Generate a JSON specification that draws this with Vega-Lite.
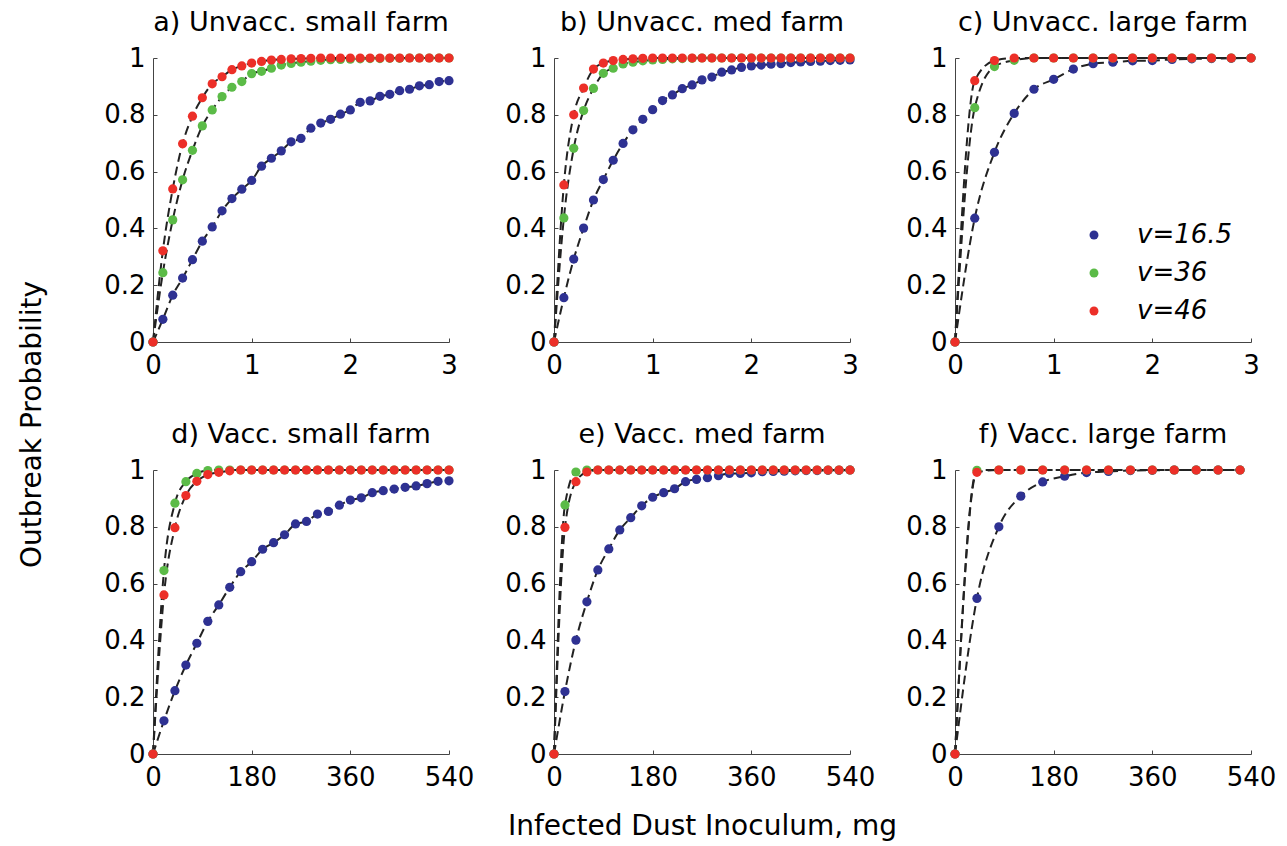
{
  "$schema": "https://vega.github.io/schema/vega-lite/v6.json",
  "padding": {"left": 18, "top": 9, "right": 5, "bottom": 5},
  "background": "white",
  "datasets": {
    "d": [
      {"p":"a","v":"16.5","x":0,"y":0},{"p":"a","v":"16.5","x":0.1,"y":0.08},{"p":"a","v":"16.5","x":0.2,"y":0.165},{"p":"a","v":"16.5","x":0.3,"y":0.225},{"p":"a","v":"16.5","x":0.4,"y":0.29},{"p":"a","v":"16.5","x":0.5,"y":0.355},{"p":"a","v":"16.5","x":0.6,"y":0.405},{"p":"a","v":"16.5","x":0.7,"y":0.462},{"p":"a","v":"16.5","x":0.8,"y":0.505},{"p":"a","v":"16.5","x":0.9,"y":0.538},{"p":"a","v":"16.5","x":1.0,"y":0.569},{"p":"a","v":"16.5","x":1.1,"y":0.619},{"p":"a","v":"16.5","x":1.2,"y":0.647},{"p":"a","v":"16.5","x":1.3,"y":0.673},{"p":"a","v":"16.5","x":1.4,"y":0.705},{"p":"a","v":"16.5","x":1.5,"y":0.717},{"p":"a","v":"16.5","x":1.6,"y":0.753},{"p":"a","v":"16.5","x":1.7,"y":0.771},{"p":"a","v":"16.5","x":1.8,"y":0.784},{"p":"a","v":"16.5","x":1.9,"y":0.802},{"p":"a","v":"16.5","x":2.0,"y":0.817},{"p":"a","v":"16.5","x":2.1,"y":0.844},{"p":"a","v":"16.5","x":2.2,"y":0.849},{"p":"a","v":"16.5","x":2.3,"y":0.865},{"p":"a","v":"16.5","x":2.4,"y":0.872},{"p":"a","v":"16.5","x":2.5,"y":0.885},{"p":"a","v":"16.5","x":2.6,"y":0.89},{"p":"a","v":"16.5","x":2.7,"y":0.902},{"p":"a","v":"16.5","x":2.8,"y":0.906},{"p":"a","v":"16.5","x":2.9,"y":0.917},{"p":"a","v":"16.5","x":3.0,"y":0.92},
      {"p":"a","v":"36","x":0,"y":0},{"p":"a","v":"36","x":0.1,"y":0.244},{"p":"a","v":"36","x":0.2,"y":0.43},{"p":"a","v":"36","x":0.3,"y":0.571},{"p":"a","v":"36","x":0.4,"y":0.675},{"p":"a","v":"36","x":0.5,"y":0.761},{"p":"a","v":"36","x":0.6,"y":0.817},{"p":"a","v":"36","x":0.7,"y":0.864},{"p":"a","v":"36","x":0.8,"y":0.897},{"p":"a","v":"36","x":0.9,"y":0.917},{"p":"a","v":"36","x":1.0,"y":0.945},{"p":"a","v":"36","x":1.1,"y":0.953},{"p":"a","v":"36","x":1.2,"y":0.964},{"p":"a","v":"36","x":1.3,"y":0.975},{"p":"a","v":"36","x":1.4,"y":0.981},{"p":"a","v":"36","x":1.5,"y":0.985},{"p":"a","v":"36","x":1.6,"y":0.989},{"p":"a","v":"36","x":1.7,"y":0.992},{"p":"a","v":"36","x":1.8,"y":0.994},{"p":"a","v":"36","x":1.9,"y":0.995},{"p":"a","v":"36","x":2.0,"y":0.996},{"p":"a","v":"36","x":2.1,"y":0.997},{"p":"a","v":"36","x":2.2,"y":0.998},{"p":"a","v":"36","x":2.3,"y":0.998},{"p":"a","v":"36","x":2.4,"y":0.999},{"p":"a","v":"36","x":2.5,"y":0.999},{"p":"a","v":"36","x":2.6,"y":1},{"p":"a","v":"36","x":2.7,"y":1},{"p":"a","v":"36","x":2.8,"y":1},{"p":"a","v":"36","x":2.9,"y":1},{"p":"a","v":"36","x":3.0,"y":1},
      {"p":"a","v":"46","x":0,"y":0},{"p":"a","v":"46","x":0.1,"y":0.321},{"p":"a","v":"46","x":0.2,"y":0.539},{"p":"a","v":"46","x":0.3,"y":0.698},{"p":"a","v":"46","x":0.4,"y":0.795},{"p":"a","v":"46","x":0.5,"y":0.86},{"p":"a","v":"46","x":0.6,"y":0.909},{"p":"a","v":"46","x":0.7,"y":0.934},{"p":"a","v":"46","x":0.8,"y":0.959},{"p":"a","v":"46","x":0.9,"y":0.972},{"p":"a","v":"46","x":1.0,"y":0.982},{"p":"a","v":"46","x":1.1,"y":0.988},{"p":"a","v":"46","x":1.2,"y":0.993},{"p":"a","v":"46","x":1.3,"y":0.995},{"p":"a","v":"46","x":1.4,"y":0.997},{"p":"a","v":"46","x":1.5,"y":0.998},{"p":"a","v":"46","x":1.6,"y":0.999},{"p":"a","v":"46","x":1.7,"y":1},{"p":"a","v":"46","x":1.8,"y":1},{"p":"a","v":"46","x":1.9,"y":1},{"p":"a","v":"46","x":2.0,"y":1},{"p":"a","v":"46","x":2.1,"y":1},{"p":"a","v":"46","x":2.2,"y":1},{"p":"a","v":"46","x":2.3,"y":1},{"p":"a","v":"46","x":2.4,"y":1},{"p":"a","v":"46","x":2.5,"y":1},{"p":"a","v":"46","x":2.6,"y":1},{"p":"a","v":"46","x":2.7,"y":1},{"p":"a","v":"46","x":2.8,"y":1},{"p":"a","v":"46","x":2.9,"y":1},{"p":"a","v":"46","x":3.0,"y":1},

      {"p":"b","v":"16.5","x":0,"y":0},{"p":"b","v":"16.5","x":0.1,"y":0.156},{"p":"b","v":"16.5","x":0.2,"y":0.292},{"p":"b","v":"16.5","x":0.3,"y":0.401},{"p":"b","v":"16.5","x":0.4,"y":0.5},{"p":"b","v":"16.5","x":0.5,"y":0.572},{"p":"b","v":"16.5","x":0.6,"y":0.64},{"p":"b","v":"16.5","x":0.7,"y":0.699},{"p":"b","v":"16.5","x":0.8,"y":0.747},{"p":"b","v":"16.5","x":0.9,"y":0.784},{"p":"b","v":"16.5","x":1.0,"y":0.818},{"p":"b","v":"16.5","x":1.1,"y":0.85},{"p":"b","v":"16.5","x":1.2,"y":0.87},{"p":"b","v":"16.5","x":1.3,"y":0.892},{"p":"b","v":"16.5","x":1.4,"y":0.905},{"p":"b","v":"16.5","x":1.5,"y":0.923},{"p":"b","v":"16.5","x":1.6,"y":0.933},{"p":"b","v":"16.5","x":1.7,"y":0.95},{"p":"b","v":"16.5","x":1.8,"y":0.958},{"p":"b","v":"16.5","x":1.9,"y":0.967},{"p":"b","v":"16.5","x":2.0,"y":0.972},{"p":"b","v":"16.5","x":2.1,"y":0.975},{"p":"b","v":"16.5","x":2.2,"y":0.978},{"p":"b","v":"16.5","x":2.3,"y":0.98},{"p":"b","v":"16.5","x":2.4,"y":0.984},{"p":"b","v":"16.5","x":2.5,"y":0.986},{"p":"b","v":"16.5","x":2.6,"y":0.988},{"p":"b","v":"16.5","x":2.7,"y":0.989},{"p":"b","v":"16.5","x":2.8,"y":0.991},{"p":"b","v":"16.5","x":2.9,"y":0.992},{"p":"b","v":"16.5","x":3.0,"y":0.993},
      {"p":"b","v":"36","x":0,"y":0},{"p":"b","v":"36","x":0.1,"y":0.437},{"p":"b","v":"36","x":0.2,"y":0.682},{"p":"b","v":"36","x":0.3,"y":0.815},{"p":"b","v":"36","x":0.4,"y":0.893},{"p":"b","v":"36","x":0.5,"y":0.946},{"p":"b","v":"36","x":0.6,"y":0.964},{"p":"b","v":"36","x":0.7,"y":0.979},{"p":"b","v":"36","x":0.8,"y":0.985},{"p":"b","v":"36","x":0.9,"y":0.99},{"p":"b","v":"36","x":1.0,"y":0.993},{"p":"b","v":"36","x":1.1,"y":0.995},{"p":"b","v":"36","x":1.2,"y":0.997},{"p":"b","v":"36","x":1.3,"y":0.998},{"p":"b","v":"36","x":1.4,"y":0.999},{"p":"b","v":"36","x":1.5,"y":1},{"p":"b","v":"36","x":1.6,"y":1},{"p":"b","v":"36","x":1.7,"y":1},{"p":"b","v":"36","x":1.8,"y":1},{"p":"b","v":"36","x":1.9,"y":1},{"p":"b","v":"36","x":2.0,"y":1},{"p":"b","v":"36","x":2.1,"y":1},{"p":"b","v":"36","x":2.2,"y":1},{"p":"b","v":"36","x":2.3,"y":1},{"p":"b","v":"36","x":2.4,"y":1},{"p":"b","v":"36","x":2.5,"y":1},{"p":"b","v":"36","x":2.6,"y":1},{"p":"b","v":"36","x":2.7,"y":1},{"p":"b","v":"36","x":2.8,"y":1},{"p":"b","v":"36","x":2.9,"y":1},{"p":"b","v":"36","x":3.0,"y":1},
      {"p":"b","v":"46","x":0,"y":0},{"p":"b","v":"46","x":0.1,"y":0.553},{"p":"b","v":"46","x":0.2,"y":0.8},{"p":"b","v":"46","x":0.3,"y":0.894},{"p":"b","v":"46","x":0.4,"y":0.961},{"p":"b","v":"46","x":0.5,"y":0.982},{"p":"b","v":"46","x":0.6,"y":0.991},{"p":"b","v":"46","x":0.7,"y":0.995},{"p":"b","v":"46","x":0.8,"y":0.997},{"p":"b","v":"46","x":0.9,"y":0.999},{"p":"b","v":"46","x":1.0,"y":1},{"p":"b","v":"46","x":1.1,"y":1},{"p":"b","v":"46","x":1.2,"y":1},{"p":"b","v":"46","x":1.3,"y":1},{"p":"b","v":"46","x":1.4,"y":1},{"p":"b","v":"46","x":1.5,"y":1},{"p":"b","v":"46","x":1.6,"y":1},{"p":"b","v":"46","x":1.7,"y":1},{"p":"b","v":"46","x":1.8,"y":1},{"p":"b","v":"46","x":1.9,"y":1},{"p":"b","v":"46","x":2.0,"y":1},{"p":"b","v":"46","x":2.1,"y":1},{"p":"b","v":"46","x":2.2,"y":1},{"p":"b","v":"46","x":2.3,"y":1},{"p":"b","v":"46","x":2.4,"y":1},{"p":"b","v":"46","x":2.5,"y":1},{"p":"b","v":"46","x":2.6,"y":1},{"p":"b","v":"46","x":2.7,"y":1},{"p":"b","v":"46","x":2.8,"y":1},{"p":"b","v":"46","x":2.9,"y":1},{"p":"b","v":"46","x":3.0,"y":1},

      {"p":"c","v":"16.5","x":0,"y":0},{"p":"c","v":"16.5","x":0.2,"y":0.436},{"p":"c","v":"16.5","x":0.4,"y":0.668},{"p":"c","v":"16.5","x":0.6,"y":0.805},{"p":"c","v":"16.5","x":0.8,"y":0.89},{"p":"c","v":"16.5","x":1.0,"y":0.925},{"p":"c","v":"16.5","x":1.2,"y":0.961},{"p":"c","v":"16.5","x":1.4,"y":0.98},{"p":"c","v":"16.5","x":1.6,"y":0.985},{"p":"c","v":"16.5","x":1.8,"y":0.99},{"p":"c","v":"16.5","x":2.0,"y":0.991},{"p":"c","v":"16.5","x":2.2,"y":0.995},{"p":"c","v":"16.5","x":2.4,"y":0.997},{"p":"c","v":"16.5","x":2.6,"y":0.998},{"p":"c","v":"16.5","x":2.8,"y":0.999},{"p":"c","v":"16.5","x":3.0,"y":1},
      {"p":"c","v":"36","x":0,"y":0},{"p":"c","v":"36","x":0.2,"y":0.825},{"p":"c","v":"36","x":0.4,"y":0.97},{"p":"c","v":"36","x":0.6,"y":0.992},{"p":"c","v":"36","x":0.8,"y":1},{"p":"c","v":"36","x":1.0,"y":1},{"p":"c","v":"36","x":1.2,"y":1},{"p":"c","v":"36","x":1.4,"y":1},{"p":"c","v":"36","x":1.6,"y":1},{"p":"c","v":"36","x":1.8,"y":1},{"p":"c","v":"36","x":2.0,"y":1},{"p":"c","v":"36","x":2.2,"y":1},{"p":"c","v":"36","x":2.4,"y":1},{"p":"c","v":"36","x":2.6,"y":1},{"p":"c","v":"36","x":2.8,"y":1},{"p":"c","v":"36","x":3.0,"y":1},
      {"p":"c","v":"46","x":0,"y":0},{"p":"c","v":"46","x":0.2,"y":0.92},{"p":"c","v":"46","x":0.4,"y":0.991},{"p":"c","v":"46","x":0.6,"y":1},{"p":"c","v":"46","x":0.8,"y":1},{"p":"c","v":"46","x":1.0,"y":1},{"p":"c","v":"46","x":1.2,"y":1},{"p":"c","v":"46","x":1.4,"y":1},{"p":"c","v":"46","x":1.6,"y":1},{"p":"c","v":"46","x":1.8,"y":1},{"p":"c","v":"46","x":2.0,"y":1},{"p":"c","v":"46","x":2.2,"y":1},{"p":"c","v":"46","x":2.4,"y":1},{"p":"c","v":"46","x":2.6,"y":1},{"p":"c","v":"46","x":2.8,"y":1},{"p":"c","v":"46","x":3.0,"y":1},

      {"p":"d","v":"16.5","x":0,"y":0},{"p":"d","v":"16.5","x":20,"y":0.117},{"p":"d","v":"16.5","x":40,"y":0.223},{"p":"d","v":"16.5","x":60,"y":0.313},{"p":"d","v":"16.5","x":80,"y":0.39},{"p":"d","v":"16.5","x":100,"y":0.467},{"p":"d","v":"16.5","x":120,"y":0.525},{"p":"d","v":"16.5","x":140,"y":0.587},{"p":"d","v":"16.5","x":160,"y":0.642},{"p":"d","v":"16.5","x":180,"y":0.677},{"p":"d","v":"16.5","x":200,"y":0.721},{"p":"d","v":"16.5","x":220,"y":0.744},{"p":"d","v":"16.5","x":240,"y":0.772},{"p":"d","v":"16.5","x":260,"y":0.81},{"p":"d","v":"16.5","x":280,"y":0.819},{"p":"d","v":"16.5","x":300,"y":0.845},{"p":"d","v":"16.5","x":320,"y":0.854},{"p":"d","v":"16.5","x":340,"y":0.876},{"p":"d","v":"16.5","x":360,"y":0.894},{"p":"d","v":"16.5","x":380,"y":0.902},{"p":"d","v":"16.5","x":400,"y":0.92},{"p":"d","v":"16.5","x":420,"y":0.927},{"p":"d","v":"16.5","x":440,"y":0.933},{"p":"d","v":"16.5","x":460,"y":0.939},{"p":"d","v":"16.5","x":480,"y":0.944},{"p":"d","v":"16.5","x":500,"y":0.952},{"p":"d","v":"16.5","x":520,"y":0.96},{"p":"d","v":"16.5","x":540,"y":0.962},
      {"p":"d","v":"36","x":0,"y":0},{"p":"d","v":"36","x":20,"y":0.646},{"p":"d","v":"36","x":40,"y":0.883},{"p":"d","v":"36","x":60,"y":0.959},{"p":"d","v":"36","x":80,"y":0.988},{"p":"d","v":"36","x":100,"y":0.998},{"p":"d","v":"36","x":120,"y":1},{"p":"d","v":"36","x":140,"y":1},{"p":"d","v":"36","x":160,"y":1},{"p":"d","v":"36","x":180,"y":1},{"p":"d","v":"36","x":200,"y":1},{"p":"d","v":"36","x":220,"y":1},{"p":"d","v":"36","x":240,"y":1},{"p":"d","v":"36","x":260,"y":1},{"p":"d","v":"36","x":280,"y":1},{"p":"d","v":"36","x":300,"y":1},{"p":"d","v":"36","x":320,"y":1},{"p":"d","v":"36","x":340,"y":1},{"p":"d","v":"36","x":360,"y":1},{"p":"d","v":"36","x":380,"y":1},{"p":"d","v":"36","x":400,"y":1},{"p":"d","v":"36","x":420,"y":1},{"p":"d","v":"36","x":440,"y":1},{"p":"d","v":"36","x":460,"y":1},{"p":"d","v":"36","x":480,"y":1},{"p":"d","v":"36","x":500,"y":1},{"p":"d","v":"36","x":520,"y":1},{"p":"d","v":"36","x":540,"y":1},
      {"p":"d","v":"46","x":0,"y":0},{"p":"d","v":"46","x":20,"y":0.56},{"p":"d","v":"46","x":40,"y":0.797},{"p":"d","v":"46","x":60,"y":0.91},{"p":"d","v":"46","x":80,"y":0.96},{"p":"d","v":"46","x":100,"y":0.984},{"p":"d","v":"46","x":120,"y":0.992},{"p":"d","v":"46","x":140,"y":0.997},{"p":"d","v":"46","x":160,"y":1},{"p":"d","v":"46","x":180,"y":1},{"p":"d","v":"46","x":200,"y":1},{"p":"d","v":"46","x":220,"y":1},{"p":"d","v":"46","x":240,"y":1},{"p":"d","v":"46","x":260,"y":1},{"p":"d","v":"46","x":280,"y":1},{"p":"d","v":"46","x":300,"y":1},{"p":"d","v":"46","x":320,"y":1},{"p":"d","v":"46","x":340,"y":1},{"p":"d","v":"46","x":360,"y":1},{"p":"d","v":"46","x":380,"y":1},{"p":"d","v":"46","x":400,"y":1},{"p":"d","v":"46","x":420,"y":1},{"p":"d","v":"46","x":440,"y":1},{"p":"d","v":"46","x":460,"y":1},{"p":"d","v":"46","x":480,"y":1},{"p":"d","v":"46","x":500,"y":1},{"p":"d","v":"46","x":520,"y":1},{"p":"d","v":"46","x":540,"y":1},

      {"p":"e","v":"16.5","x":0,"y":0},{"p":"e","v":"16.5","x":20,"y":0.22},{"p":"e","v":"16.5","x":40,"y":0.401},{"p":"e","v":"16.5","x":60,"y":0.536},{"p":"e","v":"16.5","x":80,"y":0.648},{"p":"e","v":"16.5","x":100,"y":0.722},{"p":"e","v":"16.5","x":120,"y":0.789},{"p":"e","v":"16.5","x":140,"y":0.832},{"p":"e","v":"16.5","x":160,"y":0.874},{"p":"e","v":"16.5","x":180,"y":0.904},{"p":"e","v":"16.5","x":200,"y":0.92},{"p":"e","v":"16.5","x":220,"y":0.934},{"p":"e","v":"16.5","x":240,"y":0.959},{"p":"e","v":"16.5","x":260,"y":0.967},{"p":"e","v":"16.5","x":280,"y":0.973},{"p":"e","v":"16.5","x":300,"y":0.98},{"p":"e","v":"16.5","x":320,"y":0.988},{"p":"e","v":"16.5","x":340,"y":0.988},{"p":"e","v":"16.5","x":360,"y":0.99},{"p":"e","v":"16.5","x":380,"y":0.994},{"p":"e","v":"16.5","x":400,"y":0.995},{"p":"e","v":"16.5","x":420,"y":0.996},{"p":"e","v":"16.5","x":440,"y":0.997},{"p":"e","v":"16.5","x":460,"y":0.998},{"p":"e","v":"16.5","x":480,"y":0.998},{"p":"e","v":"16.5","x":500,"y":0.999},{"p":"e","v":"16.5","x":520,"y":0.999},{"p":"e","v":"16.5","x":540,"y":1},
      {"p":"e","v":"36","x":0,"y":0},{"p":"e","v":"36","x":20,"y":0.877},{"p":"e","v":"36","x":40,"y":0.993},{"p":"e","v":"36","x":60,"y":1},{"p":"e","v":"36","x":80,"y":1},{"p":"e","v":"36","x":100,"y":1},{"p":"e","v":"36","x":120,"y":1},{"p":"e","v":"36","x":140,"y":1},{"p":"e","v":"36","x":160,"y":1},{"p":"e","v":"36","x":180,"y":1},{"p":"e","v":"36","x":200,"y":1},{"p":"e","v":"36","x":220,"y":1},{"p":"e","v":"36","x":240,"y":1},{"p":"e","v":"36","x":260,"y":1},{"p":"e","v":"36","x":280,"y":1},{"p":"e","v":"36","x":300,"y":1},{"p":"e","v":"36","x":320,"y":1},{"p":"e","v":"36","x":340,"y":1},{"p":"e","v":"36","x":360,"y":1},{"p":"e","v":"36","x":380,"y":1},{"p":"e","v":"36","x":400,"y":1},{"p":"e","v":"36","x":420,"y":1},{"p":"e","v":"36","x":440,"y":1},{"p":"e","v":"36","x":460,"y":1},{"p":"e","v":"36","x":480,"y":1},{"p":"e","v":"36","x":500,"y":1},{"p":"e","v":"36","x":520,"y":1},{"p":"e","v":"36","x":540,"y":1},
      {"p":"e","v":"46","x":0,"y":0},{"p":"e","v":"46","x":20,"y":0.798},{"p":"e","v":"46","x":40,"y":0.959},{"p":"e","v":"46","x":60,"y":0.993},{"p":"e","v":"46","x":80,"y":1},{"p":"e","v":"46","x":100,"y":1},{"p":"e","v":"46","x":120,"y":1},{"p":"e","v":"46","x":140,"y":1},{"p":"e","v":"46","x":160,"y":1},{"p":"e","v":"46","x":180,"y":1},{"p":"e","v":"46","x":200,"y":1},{"p":"e","v":"46","x":220,"y":1},{"p":"e","v":"46","x":240,"y":1},{"p":"e","v":"46","x":260,"y":1},{"p":"e","v":"46","x":280,"y":1},{"p":"e","v":"46","x":300,"y":1},{"p":"e","v":"46","x":320,"y":1},{"p":"e","v":"46","x":340,"y":1},{"p":"e","v":"46","x":360,"y":1},{"p":"e","v":"46","x":380,"y":1},{"p":"e","v":"46","x":400,"y":1},{"p":"e","v":"46","x":420,"y":1},{"p":"e","v":"46","x":440,"y":1},{"p":"e","v":"46","x":460,"y":1},{"p":"e","v":"46","x":480,"y":1},{"p":"e","v":"46","x":500,"y":1},{"p":"e","v":"46","x":520,"y":1},{"p":"e","v":"46","x":540,"y":1},

      {"p":"f","v":"16.5","x":0,"y":0},{"p":"f","v":"16.5","x":40,"y":0.548},{"p":"f","v":"16.5","x":80,"y":0.8},{"p":"f","v":"16.5","x":120,"y":0.908},{"p":"f","v":"16.5","x":160,"y":0.958},{"p":"f","v":"16.5","x":200,"y":0.978},{"p":"f","v":"16.5","x":240,"y":0.991},{"p":"f","v":"16.5","x":280,"y":0.995},{"p":"f","v":"16.5","x":320,"y":0.998},{"p":"f","v":"16.5","x":360,"y":0.999},{"p":"f","v":"16.5","x":400,"y":1},{"p":"f","v":"16.5","x":440,"y":1},{"p":"f","v":"16.5","x":480,"y":1},{"p":"f","v":"16.5","x":520,"y":1},
      {"p":"f","v":"36","x":0,"y":0},{"p":"f","v":"36","x":40,"y":0.999},{"p":"f","v":"36","x":80,"y":1},{"p":"f","v":"36","x":120,"y":1},{"p":"f","v":"36","x":160,"y":1},{"p":"f","v":"36","x":200,"y":1},{"p":"f","v":"36","x":240,"y":1},{"p":"f","v":"36","x":280,"y":1},{"p":"f","v":"36","x":320,"y":1},{"p":"f","v":"36","x":360,"y":1},{"p":"f","v":"36","x":400,"y":1},{"p":"f","v":"36","x":440,"y":1},{"p":"f","v":"36","x":480,"y":1},{"p":"f","v":"36","x":520,"y":1},
      {"p":"f","v":"46","x":0,"y":0},{"p":"f","v":"46","x":40,"y":0.992},{"p":"f","v":"46","x":80,"y":1},{"p":"f","v":"46","x":120,"y":1},{"p":"f","v":"46","x":160,"y":1},{"p":"f","v":"46","x":200,"y":1},{"p":"f","v":"46","x":240,"y":1},{"p":"f","v":"46","x":280,"y":1},{"p":"f","v":"46","x":320,"y":1},{"p":"f","v":"46","x":360,"y":1},{"p":"f","v":"46","x":400,"y":1},{"p":"f","v":"46","x":440,"y":1},{"p":"f","v":"46","x":480,"y":1},{"p":"f","v":"46","x":520,"y":1}
    ]
  },
  "data": {"name": "d"},
  "title": {"text": "Outbreak Probability", "orient": "left", "anchor": "middle", "fontSize": 28, "fontWeight": "normal", "font": "DejaVu Sans", "color": "#000", "offset": 57, "frame": "bounds"},
  "columns": 3,
  "spacing": {"row": 128, "column": 105},
  "bounds": "flush",
  "resolve": {"scale": {"color": "independent"}, "legend": {"color": "independent"}},
  "concat": [
    {
      "width": 296, "height": 284, "title": "a) Unvacc. small farm",
      "transform": [{"filter": "datum.p === 'a'"}],
      "encoding": {
        "x": {"field": "x", "type": "quantitative", "scale": {"domain": [0, 3], "nice": false}, "axis": {"values": [0, 1, 2, 3], "format": "d", "title": null}},
        "y": {"field": "y", "type": "quantitative", "scale": {"domain": [0, 1], "nice": false}, "axis": {"values": [0, 0.2, 0.4, 0.6, 0.8, 1], "format": "~g", "title": null}}
      },
      "layer": [
        {"mark": {"type": "line", "color": "#222", "strokeDash": [9, 5], "strokeWidth": 2, "interpolate": "monotone"}, "encoding": {"detail": {"field": "v"}}},
        {"mark": {"type": "circle", "size": 85, "opacity": 1}, "encoding": {"color": {"field": "v", "type": "nominal", "scale": {"domain": ["16.5", "36", "46"], "range": ["#2e3192", "#5bbb47", "#ec2f28"]}, "legend": null}}}
      ]
    },
    {
      "width": 296, "height": 284, "title": "b) Unvacc. med farm",
      "transform": [{"filter": "datum.p === 'b'"}],
      "encoding": {
        "x": {"field": "x", "type": "quantitative", "scale": {"domain": [0, 3], "nice": false}, "axis": {"values": [0, 1, 2, 3], "format": "d", "title": null}},
        "y": {"field": "y", "type": "quantitative", "scale": {"domain": [0, 1], "nice": false}, "axis": {"values": [0, 0.2, 0.4, 0.6, 0.8, 1], "format": "~g", "title": null}}
      },
      "layer": [
        {"mark": {"type": "line", "color": "#222", "strokeDash": [9, 5], "strokeWidth": 2, "interpolate": "monotone"}, "encoding": {"detail": {"field": "v"}}},
        {"mark": {"type": "circle", "size": 85, "opacity": 1}, "encoding": {"color": {"field": "v", "type": "nominal", "scale": {"domain": ["16.5", "36", "46"], "range": ["#2e3192", "#5bbb47", "#ec2f28"]}, "legend": null}}}
      ]
    },
    {
      "width": 296, "height": 284, "title": "c) Unvacc. large farm",
      "transform": [{"filter": "datum.p === 'c'"}],
      "encoding": {
        "x": {"field": "x", "type": "quantitative", "scale": {"domain": [0, 3], "nice": false}, "axis": {"values": [0, 1, 2, 3], "format": "d", "title": null}},
        "y": {"field": "y", "type": "quantitative", "scale": {"domain": [0, 1], "nice": false}, "axis": {"values": [0, 0.2, 0.4, 0.6, 0.8, 1], "format": "~g", "title": null}}
      },
      "layer": [
        {"mark": {"type": "line", "color": "#222", "strokeDash": [9, 5], "strokeWidth": 2, "interpolate": "monotone"}, "encoding": {"detail": {"field": "v"}}},
        {"mark": {"type": "circle", "size": 85, "opacity": 1}, "encoding": {"color": {"field": "v", "type": "nominal", "scale": {"domain": ["16.5", "36", "46"], "range": ["#2e3192", "#5bbb47", "#ec2f28"]},
          "legend": {"orient": "bottom-right", "offset": 18, "title": null, "labelExpr": "'v=' + datum.label", "labelFont": "DejaVu Sans", "labelFontSize": 26, "labelFontStyle": "italic", "labelColor": "#000", "labelOffset": 30, "symbolType": "circle", "symbolSize": 80, "symbolStrokeWidth": 0, "rowPadding": 12}}}}
      ]
    },
    {
      "width": 296, "height": 284, "title": "d) Vacc. small farm",
      "transform": [{"filter": "datum.p === 'd'"}],
      "encoding": {
        "x": {"field": "x", "type": "quantitative", "scale": {"domain": [0, 540], "nice": false}, "axis": {"values": [0, 180, 360, 540], "format": "d", "title": null}},
        "y": {"field": "y", "type": "quantitative", "scale": {"domain": [0, 1], "nice": false}, "axis": {"values": [0, 0.2, 0.4, 0.6, 0.8, 1], "format": "~g", "title": null}}
      },
      "layer": [
        {"mark": {"type": "line", "color": "#222", "strokeDash": [9, 5], "strokeWidth": 2, "interpolate": "monotone"}, "encoding": {"detail": {"field": "v"}}},
        {"mark": {"type": "circle", "size": 85, "opacity": 1}, "encoding": {"color": {"field": "v", "type": "nominal", "scale": {"domain": ["16.5", "36", "46"], "range": ["#2e3192", "#5bbb47", "#ec2f28"]}, "legend": null}}}
      ]
    },
    {
      "width": 296, "height": 284, "title": "e) Vacc. med farm",
      "transform": [{"filter": "datum.p === 'e'"}],
      "encoding": {
        "x": {"field": "x", "type": "quantitative", "scale": {"domain": [0, 540], "nice": false}, "axis": {"values": [0, 180, 360, 540], "format": "d", "title": "Infected Dust Inoculum, mg", "titleFont": "DejaVu Sans", "titleFontSize": 28, "titleFontWeight": "normal", "titleColor": "#000", "titlePadding": 22}},
        "y": {"field": "y", "type": "quantitative", "scale": {"domain": [0, 1], "nice": false}, "axis": {"values": [0, 0.2, 0.4, 0.6, 0.8, 1], "format": "~g", "title": null}}
      },
      "layer": [
        {"mark": {"type": "line", "color": "#222", "strokeDash": [9, 5], "strokeWidth": 2, "interpolate": "monotone"}, "encoding": {"detail": {"field": "v"}}},
        {"mark": {"type": "circle", "size": 85, "opacity": 1}, "encoding": {"color": {"field": "v", "type": "nominal", "scale": {"domain": ["16.5", "36", "46"], "range": ["#2e3192", "#5bbb47", "#ec2f28"]}, "legend": null}}}
      ]
    },
    {
      "width": 296, "height": 284, "title": "f) Vacc. large farm",
      "transform": [{"filter": "datum.p === 'f'"}],
      "encoding": {
        "x": {"field": "x", "type": "quantitative", "scale": {"domain": [0, 540], "nice": false}, "axis": {"values": [0, 180, 360, 540], "format": "d", "title": null}},
        "y": {"field": "y", "type": "quantitative", "scale": {"domain": [0, 1], "nice": false}, "axis": {"values": [0, 0.2, 0.4, 0.6, 0.8, 1], "format": "~g", "title": null}}
      },
      "layer": [
        {"mark": {"type": "line", "color": "#222", "strokeDash": [9, 5], "strokeWidth": 2, "interpolate": "monotone"}, "encoding": {"detail": {"field": "v"}}},
        {"mark": {"type": "circle", "size": 85, "opacity": 1}, "encoding": {"color": {"field": "v", "type": "nominal", "scale": {"domain": ["16.5", "36", "46"], "range": ["#2e3192", "#5bbb47", "#ec2f28"]}, "legend": null}}}
      ]
    }
  ],
  "config": {
    "font": "DejaVu Sans",
    "view": {"stroke": null},
    "axis": {"grid": false, "domainColor": "#444", "domainWidth": 1, "tickColor": "#444", "tickSize": -4, "labelFont": "DejaVu Sans", "labelFontSize": 26, "labelColor": "#000", "labelPadding": 12, "labelFlush": false},
    "axisX": {"labelPadding": 14},
    "title": {"font": "DejaVu Sans", "fontSize": 27, "fontWeight": "normal", "color": "#000", "frame": "group", "anchor": "middle", "offset": 8}
  }
}
